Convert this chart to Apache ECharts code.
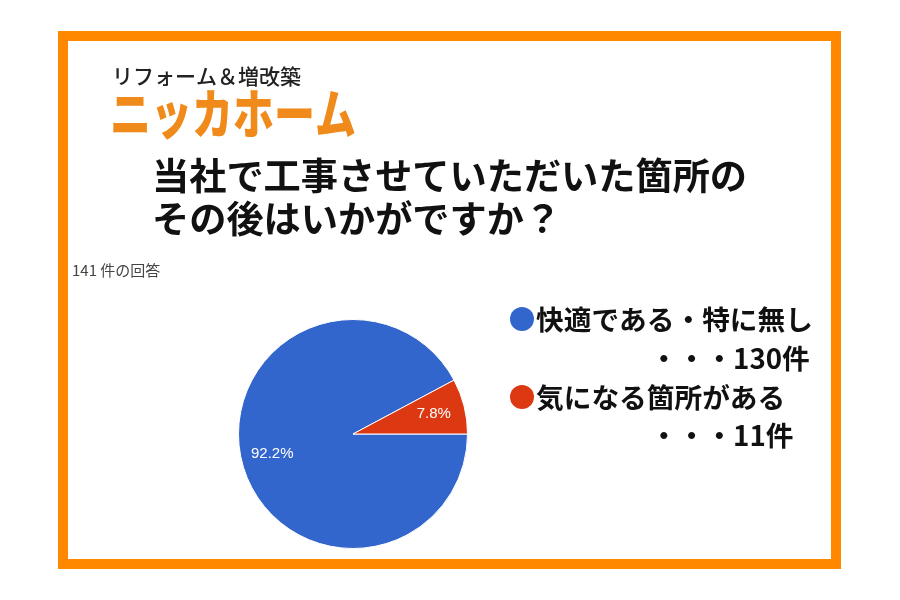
<!DOCTYPE html>
<html>
<head>
<meta charset="utf-8">
<script src="https://cdn.jsdelivr.net/npm/echarts@6/dist/echarts.min.js"></script>
<style>
html,body{margin:0;padding:0;background:#fff;}
#chart{width:900px;height:600px;}
</style>
</head>
<body>
<div id="chart"></div>
<script>
const categories = ['快適である・特に無し', '気になる箇所がある'];
const counts = [130, 11];
const sliceColors = ['#3366CC', '#DC3912'];
const titleLines = ['当社で工事させていただいた箇所の', 'その後はいかがですか？'];
const logoSub = 'リフォーム＆増改築';
const logoMain = 'ニッカホーム';
const countUnit = '件';
const responseNote = '141 件の回答';

const total = counts.reduce((a, b) => a + b, 0);
const pieData = categories.map((c, i) => ({ name: c, value: counts[i], itemStyle: { color: sliceColors[i] } }));
const startAngle = 360 * counts[1] / total;

const chart = echarts.init(document.getElementById('chart'), null, { renderer: 'canvas' });
const JP = '"Noto Sans CJK JP", sans-serif';

const legendGraphics = [];
const legendY = [[319, 358], [397, 435]];
categories.forEach((c, i) => {
  legendGraphics.push({
    type: 'circle', shape: { cx: 522, cy: legendY[i][0], r: 12 }, style: { fill: sliceColors[i] }
  });
  legendGraphics.push({
    type: 'text', x: 536, y: legendY[i][0],
    style: { text: c, font: 'bold 27.7px ' + JP, fill: '#111', textVerticalAlign: 'middle' }
  });
  legendGraphics.push({
    type: 'text', x: 650, y: legendY[i][1],
    style: { text: '・・・' + counts[i] + countUnit, font: 'bold 27.7px ' + JP, fill: '#111', textVerticalAlign: 'middle' }
  });
});

chart.setOption({
  backgroundColor: '#ffffff',
  animation: false,
  graphic: [
    { type: 'rect', shape: { x: 63, y: 36, width: 773, height: 528 }, style: { fill: 'none', stroke: '#FF8800', lineWidth: 10 } },
    { type: 'text', x: 112, y: 76, style: { text: logoSub, font: '500 21px ' + JP, fill: '#222', textVerticalAlign: 'middle' } },
    { type: 'text', x: 110, y: 114, scaleY: 1.3, style: { text: logoMain, font: '900 41px ' + JP, fill: '#F08A1A', textVerticalAlign: 'middle' } },
    { type: 'text', x: 152, y: 176, style: { text: titleLines[0], font: 'bold 37.2px ' + JP, fill: '#111', textVerticalAlign: 'middle' } },
    { type: 'text', x: 152, y: 219, style: { text: titleLines[1], font: 'bold 37.2px ' + JP, fill: '#111', textVerticalAlign: 'middle' } },
    { type: 'text', x: 72, y: 270, style: { text: responseNote, font: '15px ' + JP, fill: '#444', textVerticalAlign: 'middle' } }
  ].concat(legendGraphics),
  series: [
    {
      type: 'pie',
      center: [353, 434],
      radius: [0, 114.5],
      startAngle: startAngle,
      clockwise: false,
      silent: true,
      label: { show: false },
      labelLine: { show: false },
      itemStyle: { borderColor: '#ffffff', borderWidth: 1 },
      data: pieData
    },
    {
      type: 'pie',
      center: [353, 434],
      radius: [46, 114.5],
      startAngle: startAngle,
      clockwise: false,
      silent: true,
      itemStyle: { color: 'rgba(0,0,0,0)', borderWidth: 0 },
      label: {
        show: true, position: 'inside',
        formatter: p => (p.value / total * 100).toFixed(1) + '%',
        color: '#ffffff', fontSize: 15, fontFamily: '"Liberation Sans", Arial, sans-serif'
      },
      labelLine: { show: false },
      data: categories.map((c, i) => ({ name: c, value: counts[i] }))
    }
  ]
});
</script>
</body>
</html>
